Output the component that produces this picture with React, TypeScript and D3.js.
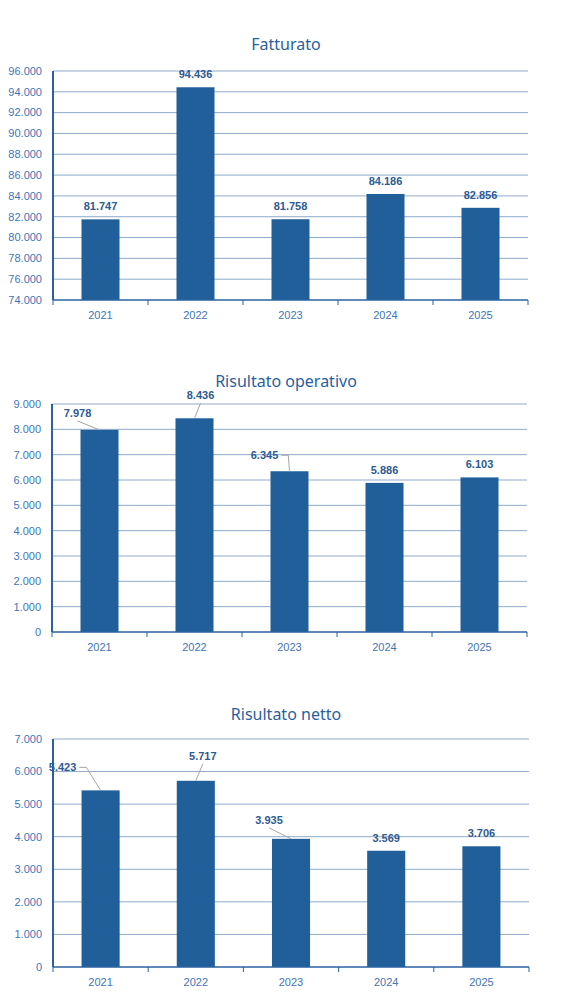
import { useRef, useEffect } from "react";
import * as d3 from "d3";

const YEARS = ["2021", "2022", "2023", "2024", "2025"];

const FATTURATO = [81747, 94436, 81758, 84186, 82856];
const RISULTATO_OPERATIVO = [7978, 8436, 6345, 5886, 6103];
const RISULTATO_NETTO = [5423, 5717, 3935, 3569, 3706];

const FATTURATO_TICKS = [74000, 76000, 78000, 80000, 82000, 84000, 86000, 88000, 90000, 92000, 94000, 96000];
const OPERATIVO_TICKS = [0, 1000, 2000, 3000, 4000, 5000, 6000, 7000, 8000, 9000];
const NETTO_TICKS = [0, 1000, 2000, 3000, 4000, 5000, 6000, 7000];

const BAR_COLOR = "#215f9a";
const GRID_COLOR = "#8eaaca";
const AXIS_COLOR = "#2a62a0";
const TICK_TEXT = "#3f75b8";
const LABEL_TEXT = "#2d5b93";
const TITLE_COLOR = "#2a5f9e";

type Leader = { index: number; dx: number; dy: number; kind: "below" | "side" };

interface ChartSpec {
  title: string;
  values: number[];
  ticks: number[];
  top: number;
  bottom: number;
  left: number;
  right: number;
  titleY: number;
  moved: Leader[];
}

// label nudges copied from the original sheet (relative to default spot above the bar)
const CHARTS: ChartSpec[] = [
  { title: "Fatturato", values: FATTURATO, ticks: FATTURATO_TICKS, top: 71, bottom: 300, left: 53, right: 528, titleY: 44, moved: [] },
  {
    title: "Risultato operativo", values: RISULTATO_OPERATIVO, ticks: OPERATIVO_TICKS,
    top: 404, bottom: 632, left: 52, right: 527, titleY: 381,
    moved: [
      { index: 0, dx: -22, dy: -4, kind: "below" },
      { index: 1, dx: 6, dy: -10, kind: "below" },
      { index: 2, dx: -25, dy: -3, kind: "side" },
    ],
  },
  {
    title: "Risultato netto", values: RISULTATO_NETTO, ticks: NETTO_TICKS,
    top: 739, bottom: 967, left: 53, right: 529, titleY: 714,
    moved: [
      { index: 0, dx: -38, dy: -10, kind: "side" },
      { index: 1, dx: 7, dy: -12, kind: "below" },
      { index: 2, dx: -22, dy: -6, kind: "below" },
    ],
  },
];

const fmt = (v: number) => d3.format(",")(v).replace(/,/g, ".");

export default function App() {
  const svgRef = useRef<SVGSVGElement>(null);

  useEffect(() => {
    if (!svgRef.current) return;
    const svg = d3.select(svgRef.current);
    svg.selectAll("*").remove();

    CHARTS.forEach((c) => {
      const g = svg.append("g");
      const x = d3.scaleBand().domain(YEARS).range([c.left, c.right]).paddingInner(0.6).paddingOuter(0.3);
      const xCat = d3.scaleBand().domain(YEARS).range([c.left, c.right]);
      const y = d3.scaleLinear().domain([c.ticks[0], c.ticks[c.ticks.length - 1]]).range([c.bottom, c.top]);

      // title
      g.append("text")
        .attr("x", 286)
        .attr("y", c.titleY)
        .attr("text-anchor", "middle")
        .attr("dy", "0.35em")
        .style("font-family", '"Noto Sans", sans-serif')
        .style("font-size", "16px")
        .style("fill", TITLE_COLOR)
        .text(c.title);

      // gridlines
      g.selectAll(".grid")
        .data(c.ticks.slice(1))
        .join("line")
        .attr("x1", c.left)
        .attr("x2", c.right)
        .attr("y1", (d) => y(d))
        .attr("y2", (d) => y(d))
        .attr("stroke", GRID_COLOR)
        .attr("stroke-width", 1);

      // y tick labels
      g.selectAll(".ytick")
        .data(c.ticks)
        .join("text")
        .attr("x", c.left - 11)
        .attr("y", (d) => y(d))
        .attr("dy", "0.35em")
        .attr("text-anchor", "end")
        .style("font-family", '"Liberation Sans", Arial, sans-serif')
        .style("font-size", "11px")
        .style("fill", TICK_TEXT)
        .text((d) => fmt(d));

      // bars
      g.selectAll(".bar")
        .data(c.values)
        .join("rect")
        .attr("x", (_, i) => x(YEARS[i])!)
        .attr("width", x.bandwidth())
        .attr("y", (d) => y(d))
        .attr("height", (d) => c.bottom - y(d))
        .attr("fill", BAR_COLOR);

      // axes
      g.append("line")
        .attr("x1", c.left).attr("x2", c.left)
        .attr("y1", c.top).attr("y2", c.bottom)
        .attr("stroke", AXIS_COLOR).attr("stroke-width", 2);
      g.append("line")
        .attr("x1", c.left).attr("x2", c.right)
        .attr("y1", c.bottom).attr("y2", c.bottom)
        .attr("stroke", AXIS_COLOR).attr("stroke-width", 1.5);

      const bounds = [...YEARS.map((yr) => xCat(yr)!), c.right];
      g.selectAll(".xtickmark")
        .data(bounds)
        .join("line")
        .attr("x1", (d) => d).attr("x2", (d) => d)
        .attr("y1", c.bottom).attr("y2", c.bottom + 5)
        .attr("stroke", AXIS_COLOR).attr("stroke-width", 1);

      g.selectAll(".xtick")
        .data(YEARS)
        .join("text")
        .attr("x", (d) => xCat(d)! + xCat.bandwidth() / 2)
        .attr("y", c.bottom + 15)
        .attr("dy", "0.35em")
        .attr("text-anchor", "middle")
        .style("font-family", '"Liberation Sans", Arial, sans-serif')
        .style("font-size", "11px")
        .style("fill", TICK_TEXT)
        .text((d) => d);

      // data labels + leader lines
      c.values.forEach((v, i) => {
        const ax = x(YEARS[i])! + x.bandwidth() / 2;
        const ay = y(v);
        const m = c.moved.find((l) => l.index === i);
        const lx = ax + (m ? m.dx : 0);
        const ly = ay - 13 + (m ? m.dy : 0);

        const t = g.append("text")
          .attr("x", lx)
          .attr("y", ly)
          .attr("dy", "0.35em")
          .attr("text-anchor", "middle")
          .style("font-family", '"Liberation Sans", Arial, sans-serif')
          .style("font-size", "11px")
          .style("font-weight", "700")
          .style("fill", LABEL_TEXT)
          .text(fmt(v));

        if (!m) return;
        const w = (t.node() as SVGTextElement).getComputedTextLength();
        let pts: [number, number][];
        if (m.kind === "side") {
          const sx = lx + w / 2 + 3;
          const ex = Math.min(sx + 7, ax);
          pts = ex >= ax ? [[sx, ly], [ax, ly], [ax, ay]] : [[sx, ly], [ex, ly], [ax, ay]];
        } else {
          pts = [[lx, ly + 8], [ax, ay]];
        }
        g.append("path")
          .attr("d", d3.line()(pts))
          .attr("fill", "none")
          .attr("stroke", "#a6a6a6")
          .attr("stroke-width", 1);
      });
    });
  }, []);

  return (
    <svg
      ref={svgRef}
      width={579}
      height={1006}
      style={{ position: "absolute", left: 0, top: 0, background: "#fff" }}
    />
  );
}
